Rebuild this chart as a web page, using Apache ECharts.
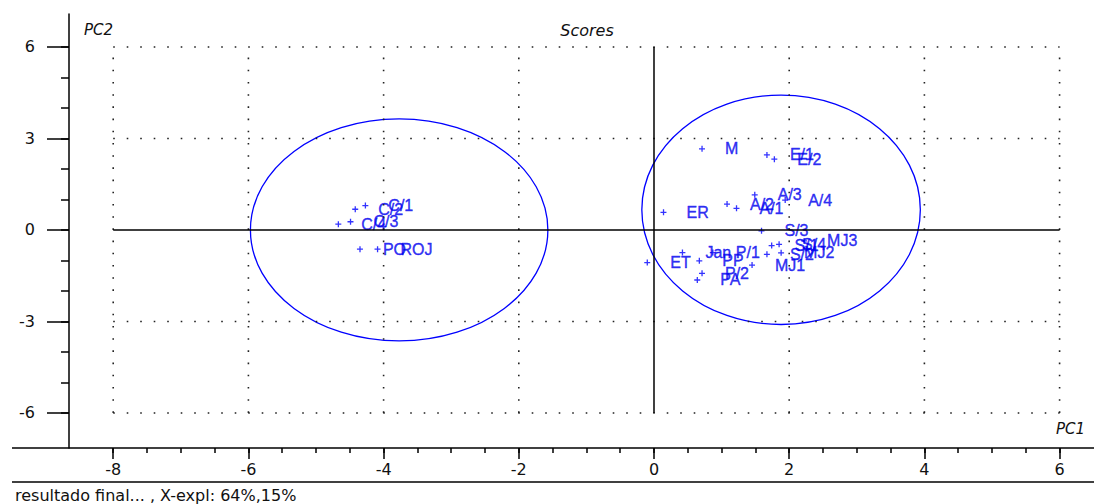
<!DOCTYPE html>
<html><head><meta charset="utf-8">
<script src="https://cdn.jsdelivr.net/npm/echarts@6/dist/echarts.min.js"></script>
<style>html,body{margin:0;padding:0;background:#fff}#c{width:1094px;height:504px}</style>
</head><body><div id="c"></div>
<script>
// ---- data ----
const sampleNames = ['C/1','C/2','C/3','C/4','PO','ROJ','M','E/1','E/2','ER','A/2','A/1','A/3','A/4','S/3','S/1','S/4','MJ3','S/2','MJ2','MJ1','ET','Jan','P/1','PP','P/2','PA'];
const pc1Scores = [-4.27,-4.42,-4.49,-4.67,-4.35,-4.09,0.71,1.67,1.78,0.14,1.08,1.22,1.49,1.94,1.59,1.74,1.85,2.22,1.67,1.88,1.45,-0.10,0.42,0.87,0.67,0.71,0.64];
const pc2Scores = [0.80,0.68,0.27,0.19,-0.63,-0.63,2.66,2.46,2.32,0.58,0.85,0.71,1.15,0.98,-0.03,-0.51,-0.47,-0.36,-0.80,-0.75,-1.15,-1.07,-0.74,-0.74,-1.01,-1.42,-1.64];
const ellipseCenterX = [-3.77, 1.88];
const ellipseCenterY = [0.00, 0.66];
const ellipseRadiusX = [2.20, 2.06];
const ellipseRadiusY = [3.64, 3.76];
const xTickLabels = [-8,-6,-4,-2,0,2,4,6];
const xMinorTicks = [-8,-7.5,-7,-6.5,-6,-5.5,-5,-4.5,-4,-3.5,-3,-2.5,-2,-1.5,-1,-0.5,0,0.5,1,1.5,2,2.5,3,3.5,4,4.5,5,5.5,6];
const yTickLabels = [-6,-3,0,3,6];
const yMinorTicks = [-6,-5,-4,-3,-2,-1,0,1,2,3,4,5,6];
const dottedX = [-8,-6,-4,-2,2,4,6];
const dottedY = [-6,-3,3,6];
const spanX = [-8,6];
const spanY = [-6,6];

const BLUE = '#0000ff';
const FONT = 'Liberation Sans, Arial, sans-serif';
const FONT2 = 'DejaVu Sans, Verdana, sans-serif';
const chart = echarts.init(document.getElementById('c'), null, {renderer:'svg'});

const series = [];
dottedX.forEach(x => series.push({type:'line', data:[[x,spanY[0]],[x,spanY[1]]], symbol:'none', silent:true,
  lineStyle:{color:'#222', width:1.6, type:[1.6,10.6]}}));
dottedY.forEach(y => series.push({type:'line', data:[[spanX[0],y],[spanX[1],y]], symbol:'none', silent:true,
  lineStyle:{color:'#222', width:1.6, type:[1.6,11.9]}}));
series.push({type:'line', data:[[0,spanY[0]],[0,spanY[1]]], symbol:'none', silent:true, lineStyle:{color:'#000', width:1.5}});
series.push({type:'line', data:[[spanX[0],0],[spanX[1],0]], symbol:'none', silent:true, lineStyle:{color:'#000', width:1.5}});
series.push({type:'custom', silent:true,
  data: ellipseCenterX.map((cx,i)=>[cx, ellipseCenterY[i], ellipseRadiusX[i], ellipseRadiusY[i]]),
  encode:{x:0, y:1},
  renderItem:(params, api)=>{
    const c = api.coord([api.value(0), api.value(1)]);
    const s = api.size([api.value(2), api.value(3)]);
    return {type:'ellipse', shape:{cx:c[0], cy:c[1], rx:s[0], ry:s[1]}, style:{fill:'none', stroke:BLUE, lineWidth:1.3}};
  }});
series.push({type:'scatter', data: pc1Scores.map((x,i)=>[x, pc2Scores[i], sampleNames[i]]),
  symbol:'path://M0,2.4h6v1.3H0z M2.4,0h1.3v6H2.4z', symbolSize:6, itemStyle:{color:BLUE},
  label:{show:true, position:'right', distance:20, formatter:p=>p.data[2], color:'#0000f0', fontSize:16, fontFamily:FONT,
         textBorderColor:'#0000f0', textBorderWidth:0.4}});

chart.setOption({
  animation:false,
  grid:{left:69, right:0, top:14, bottom:56},
  xAxis:[
    {type:'value', min:-8.654, max:6.509, position:'bottom',
     axisLine:{show:false, onZero:false}, splitLine:{show:false},
     axisTick:{show:true, customValues:xTickLabels, length:11, lineStyle:{color:'#000', width:1.5}},
     axisLabel:{customValues:xTickLabels, margin:13, color:'#111', fontSize:16, fontFamily:FONT2}},
    {type:'value', min:-8.654, max:6.509, position:'bottom', offset:0,
     axisLine:{show:false, onZero:false}, splitLine:{show:false},
     axisTick:{show:true, customValues:xMinorTicks, length:5, lineStyle:{color:'#000', width:1.5}},
     axisLabel:{show:false}}
  ],
  yAxis:[
    {type:'value', min:-7.15, max:7.08, position:'left',
     axisLine:{show:true, onZero:false, lineStyle:{color:'#000', width:1.5}}, splitLine:{show:false},
     axisTick:{show:true, customValues:yTickLabels, length:22, lineStyle:{color:'#000', width:1.5}},
     axisLabel:{customValues:yTickLabels, margin:34, color:'#111', fontSize:16, fontFamily:FONT2}},
    {type:'value', min:-7.15, max:7.08, position:'left', offset:0,
     axisLine:{show:false, onZero:false}, splitLine:{show:false},
     axisTick:{show:true, customValues:yMinorTicks, length:8, lineStyle:{color:'#000', width:1.5}},
     axisLabel:{show:false}}
  ],
  graphic:[
    {type:'line', shape:{x1:12, y1:448, x2:1094, y2:448}, style:{stroke:'#000', lineWidth:1.5}, silent:true},
    {type:'line', shape:{x1:12, y1:482, x2:1094, y2:482}, style:{stroke:'#000', lineWidth:1.5}, silent:true},
    {type:'text', style:{x:587, y:30, text:'Scores', textAlign:'center', textVerticalAlign:'middle', font:'italic 16px '+FONT2, fill:'#111'}},
    {type:'text', style:{x:84, y:30, text:'PC2', textAlign:'left', textVerticalAlign:'middle', font:'italic 15px '+FONT2, fill:'#111'}},
    {type:'text', style:{x:1056, y:429, text:'PC1', textAlign:'left', textVerticalAlign:'middle', font:'italic 15px '+FONT2, fill:'#111'}},
    {type:'text', style:{x:15, y:495, text:'resultado final... , X-expl: 64%,15%', textAlign:'left', textVerticalAlign:'middle', font:'16px '+FONT2, fill:'#111'}}
  ],
  series: series
});
</script>
</body></html>
